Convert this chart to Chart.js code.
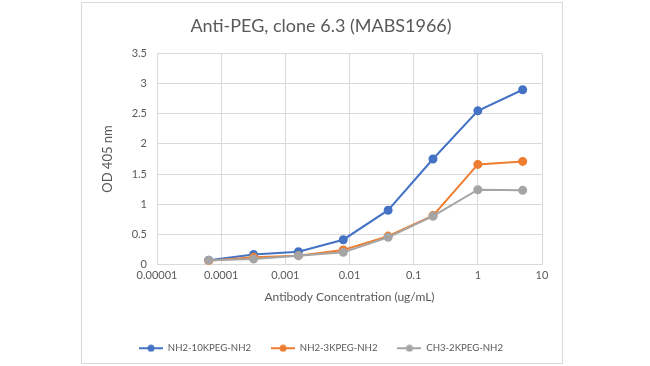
<!DOCTYPE html>
<html>
<head>
<meta charset="utf-8">
<script src="https://cdn.jsdelivr.net/npm/chart.js@4/dist/chart.umd.min.js"></script>
<style>
  html, body { margin: 0; padding: 0; background: #fff; }
  #frame {
    position: absolute; left: 81px; top: 2px;
    width: 480px; height: 360px;
    border: 1px solid #d9d9d9;
  }
</style>
</head>
<body>
<div id="frame"><canvas id="chart" width="480" height="360"></canvas></div>
<script>
const concentrations = [0.000064, 0.00032, 0.0016, 0.008, 0.04, 0.2, 1, 5];
const seriesNames = ['NH2-10KPEG-NH2', 'NH2-3KPEG-NH2', 'CH3-2KPEG-NH2'];
const nh2_10k = [0.07, 0.165, 0.21, 0.41, 0.90, 1.75, 2.55, 2.90];
const nh2_3k = [0.06, 0.12, 0.145, 0.24, 0.47, 0.81, 1.66, 1.71];
const ch3_2k = [0.07, 0.09, 0.145, 0.20, 0.45, 0.80, 1.24, 1.23];
const xTicks = [0.00001, 0.0001, 0.001, 0.01, 0.1, 1, 10];
const yTicks = [0, 0.5, 1, 1.5, 2, 2.5, 3, 3.5];
const colors = ['#4472C4', '#ED7D31', '#A5A5A5'];

const FONT = 'Lato, Calibri, Carlito, sans-serif';
const TEXT = '#595959';

// small line-with-dot marker for the legend
function legendMarker(color) {
  const c = document.createElement('canvas');
  c.width = 24; c.height = 8;
  const g = c.getContext('2d');
  g.strokeStyle = color; g.lineWidth = 2;
  g.beginPath(); g.moveTo(0, 4); g.lineTo(24, 4); g.stroke();
  g.fillStyle = color;
  g.beginPath(); g.arc(12, 4, 3.5, 0, Math.PI * 2); g.fill();
  return c;
}

const allSeries = [nh2_10k, nh2_3k, ch3_2k];
const datasets = allSeries.map((vals, i) => ({
  label: seriesNames[i],
  data: concentrations.map((x, j) => ({ x: x, y: vals[j] })),
  borderColor: colors[i],
  backgroundColor: colors[i],
  borderWidth: 2,
  pointRadius: 3.5,
  pointHoverRadius: 3.5,
  tension: 0,
  fill: false
})).reverse();

new Chart(document.getElementById('chart'), {
  type: 'line',
  data: { datasets: datasets },
  options: {
    responsive: false,
    animation: false,
    layout: { padding: { left: 18, right: 20, top: 8, bottom: 0 } },
    scales: {
      x: {
        type: 'logarithmic',
        min: 0.00001,
        max: 10,
        afterBuildTicks: (scale) => { scale.ticks = xTicks.map(v => ({ value: v })); },
        afterFit: (scale) => { scale.height = 59; },
        ticks: {
          color: TEXT,
          font: { family: FONT, size: 11 },
          maxRotation: 0,
          autoSkip: false,
          padding: 4,
          callback: (v) => String(v)
        },
        grid: { color: '#d9d9d9', lineWidth: 1, drawTicks: false },
        border: { color: '#d9d9d9' },
        title: {
          display: true,
          text: 'Antibody Concentration (ug/mL)',
          color: TEXT,
          font: { family: FONT, size: 12 },
          padding: { top: 4, bottom: 19 }
        }
      },
      y: {
        min: 0,
        max: 3.5,
        afterBuildTicks: (scale) => { scale.ticks = yTicks.map(v => ({ value: v })); },
        afterFit: (scale) => { scale.width = 57; },
        ticks: {
          color: TEXT,
          font: { family: FONT, size: 11 },
          padding: 10,
          callback: (v) => String(v)
        },
        grid: { color: '#d9d9d9', lineWidth: 1, drawTicks: false },
        border: { display: false },
        title: {
          display: true,
          text: 'OD 405 nm',
          color: TEXT,
          font: { family: FONT, size: 13 },
          padding: 0
        }
      }
    },
    plugins: {
      title: {
        display: true,
        text: 'Anti-PEG, clone 6.3 (MABS1966)',
        color: TEXT,
        font: { family: FONT, size: 18, weight: 'normal' },
        padding: { top: 4, bottom: 17 }
      },
      legend: {
        position: 'bottom',
        reverse: true,
        labels: {
          color: TEXT,
          font: { family: FONT, size: 9.6 },
          usePointStyle: true,
          pointStyleWidth: 24,
          boxHeight: 8,
          padding: 20,
          generateLabels: (chart) => chart.data.datasets.map((ds, i) => ({
            text: ds.label,
            fillStyle: ds.borderColor,
            strokeStyle: ds.borderColor,
            fontColor: TEXT,
            lineWidth: 0,
            pointStyle: legendMarker(ds.borderColor),
            datasetIndex: i,
            hidden: false
          }))
        }
      },
      tooltip: { enabled: false }
    }
  }
});
</script>
</body>
</html>
